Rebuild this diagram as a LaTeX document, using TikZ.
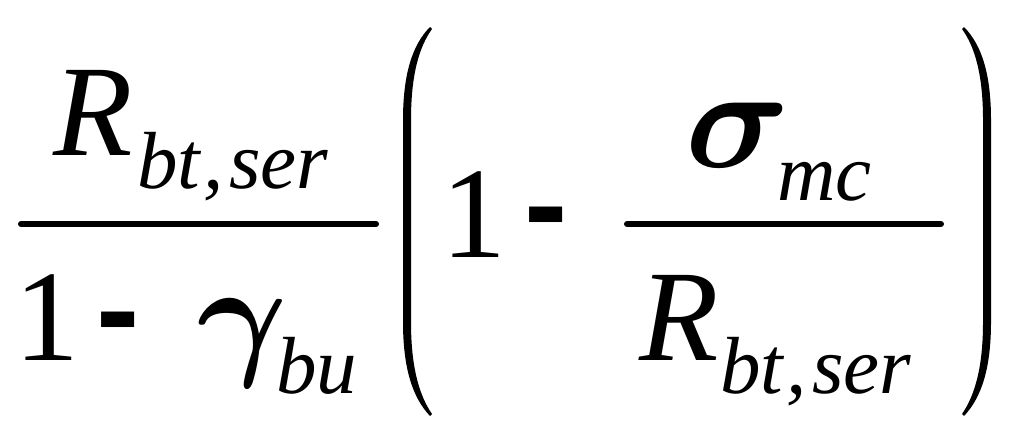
\documentclass[tikz,border=0pt]{standalone}
\usepackage{fontspec}
\setmainfont{Liberation Serif}
\newfontfamily\dashfont{Liberation Sans}
\tikzset{
  sym/.style={inner sep=0pt, anchor=base west, font=\fontsize{130}{130}\selectfont},
  symit/.style={inner sep=0pt, anchor=base west, font=\fontsize{130}{130}\selectfont\itshape},
  greek/.style={inner sep=0pt, anchor=base west, font=\fontsize{10}{10}\selectfont\boldmath, scale=14.5},
  subit/.style={inner sep=0pt, anchor=base west, font=\fontsize{81}{81}\selectfont\itshape},
  minus/.style={inner sep=0pt, anchor=base west, font=\fontsize{130}{130}\selectfont\dashfont\bfseries},
  fracbar/.style={line width=6pt, line cap=round},
  paren/.style={fill=black, draw=none}
}
\newcommand{\btser}{bt\kern3pt,\kern6pt ser}
\begin{document}
\begin{tikzpicture}[x=1pt, y=-1pt]
	\useasboundingbox (0,0) rectangle (1024,445);

	% Outer fraction
	\node[symit] (numR) at (53,155) {R};
	\node[subit] (numSub) at (137,188) {\btser};
	\draw[fracbar] (21,224) -- (376,224);
	\node[sym] (denOne) at (14,360) {1};
	\node[minus] (denMinus) at (96,353) {-};
	\node[greek, scale=0.95] (gamma) at (195,360) {$\gamma$};
	\node[subit] (gammaSub) at (276,393) {bu};

	% Left parenthesis
	\begin{scope}[shift={(0,0)}]
		\path[paren] (430,27) .. controls (412,45) and (403,75) .. (403,120) -- (403,322)
			.. controls (403,367) and (412,397) .. (430,416)
			-- (432,414) .. controls (419,395) and (411,367) .. (411,322) -- (411,120)
			.. controls (411,75) and (419,47) .. (432,29) -- cycle;
	\end{scope}

	% Bracket content
	\node[sym] (innerOne) at (441,257) {1};
	\node[minus] (innerMinus) at (524,248) {-};
	\draw[fracbar] (627,224) -- (941,224);
	\node[greek] (sigma) at (683,167) {$\sigma$};
	\node[subit] (sigmaSub) at (777,200) {mc};
	\node[symit] (denR) at (639,360) {R};
	\node[subit] (denSub) at (720,393) {\btser};

	% Right parenthesis
	\begin{scope}[shift={(1394,0)}, xscale=-1]
		\path[paren] (430,27) .. controls (412,45) and (403,75) .. (403,120) -- (403,322)
			.. controls (403,367) and (412,397) .. (430,416)
			-- (432,414) .. controls (419,395) and (411,367) .. (411,322) -- (411,120)
			.. controls (411,75) and (419,47) .. (432,29) -- cycle;
	\end{scope}
\end{tikzpicture}
\end{document}
